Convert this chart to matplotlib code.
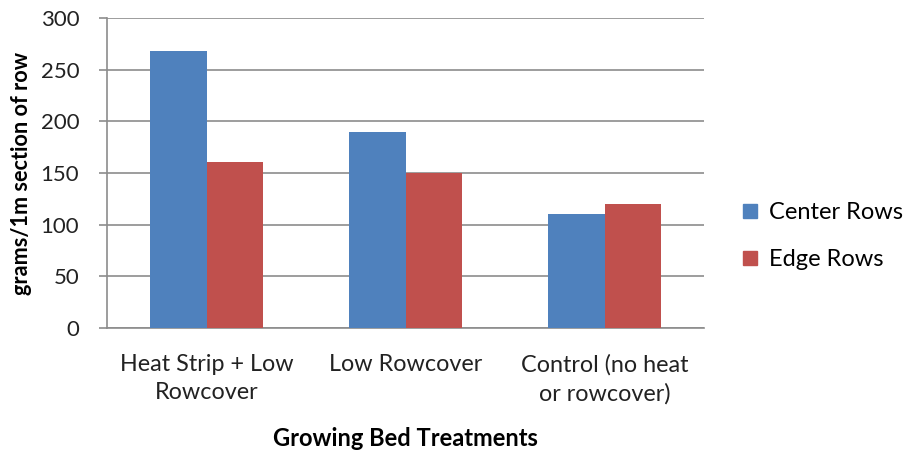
import matplotlib
matplotlib.use("Agg")
import matplotlib.pyplot as plt
from matplotlib.lines import Line2D
import numpy as np

categories = ["Heat Strip + Low\nRowcover", "Low Rowcover", "Control (no heat\nor rowcover)"]
center_rows = [268, 190, 110]
edge_rows = [161, 150, 120]
series_names = ["Center Rows", "Edge Rows"]
yticks = [0, 50, 100, 150, 200, 250, 300]

plt.rcParams['font.family'] = ['Lato', 'DejaVu Sans']

blue = "#4F81BD"
red = "#C0504D"
grid_c = "#8C8C8C"

fig = plt.figure(figsize=(9.05, 4.5), dpi=100)
ax = fig.add_axes([107/905, 1-327.7/450, (704-107)/905, (327.7-18.3)/450])

x = np.arange(len(categories))
w = 1/3.5
ax.bar(x - w/2, center_rows, width=w, color=blue, zorder=3)
ax.bar(x + w/2, edge_rows, width=w, color=red, zorder=3)

ax.set_xlim(-0.5, len(categories) - 0.5)
ax.set_ylim(0, 300)
ax.set_yticks(yticks)
ax.set_yticklabels([str(v) for v in yticks], fontsize=16, color="#222222")
ax.set_xticks(x)
ax.set_xticklabels(categories, fontsize=16.8, color="#222222", linespacing=1.42)
ax.tick_params(axis='x', length=0, pad=19)
ax.tick_params(axis='y', length=6, width=1.2, color=grid_c, direction='out', pad=14)
ax.yaxis.grid(True, color=grid_c, linewidth=1.2, zorder=0)
ax.set_axisbelow(True)
for s in ['top', 'right']:
    ax.spines[s].set_visible(False)
ax.spines['left'].set_color(grid_c)
ax.spines['left'].set_linewidth(1.2)
ax.spines['bottom'].set_color(grid_c)
ax.spines['bottom'].set_linewidth(1.2)

ax.set_ylabel("grams/1m section of row", fontsize=15.6, fontweight='bold', labelpad=6)
ax.set_xlabel("Growing Bed Treatments", fontsize=17, fontweight='bold', labelpad=16)

handles = [Line2D([], [], marker='s', linestyle='none', markersize=10.5, color=c) for c in (blue, red)]
fig.legend(handles, series_names, loc='center left', bbox_to_anchor=(717/905, 1-236/450),
           frameon=False, fontsize=17, handletextpad=0.3, labelspacing=1.12, handlelength=1.0)

fig.savefig("out.png", dpi=100)
